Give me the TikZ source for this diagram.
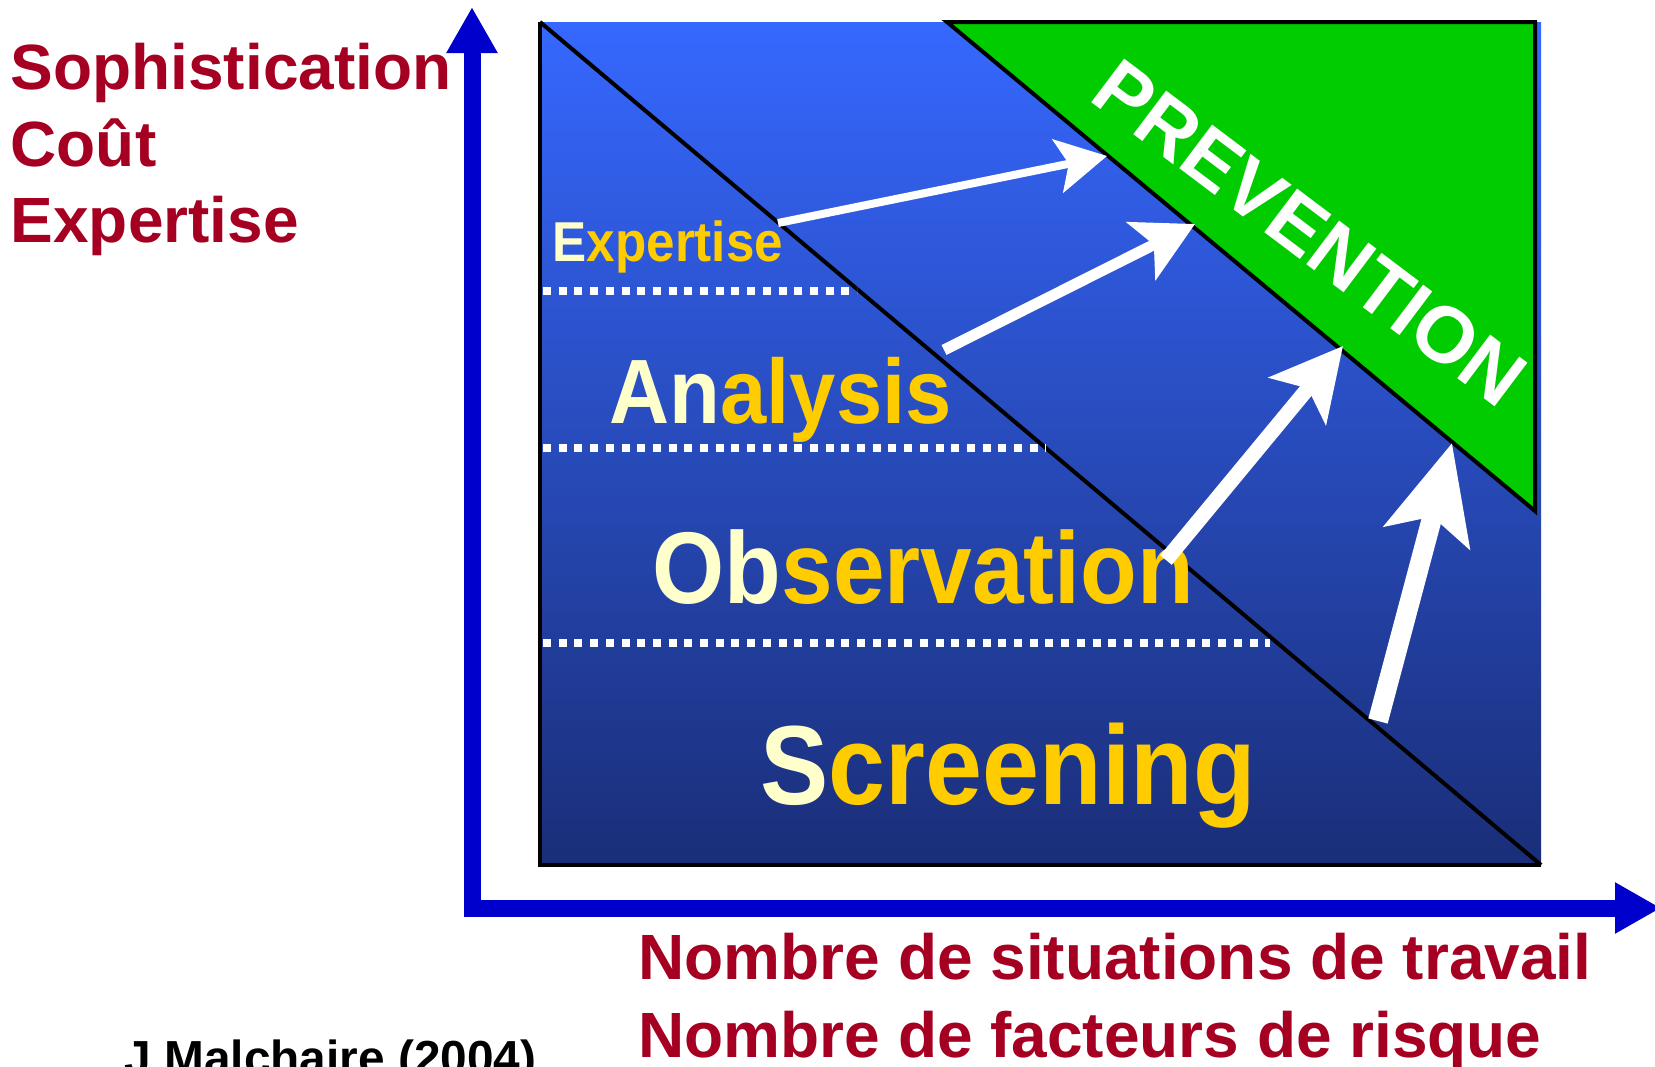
\documentclass[tikz,border=0pt]{standalone}
\usepackage{fontspec}
\setmainfont{Liberation Sans}
\newfontfamily\narrowsans[FakeStretch=0.91]{Liberation Sans}
\usetikzlibrary{arrows.meta}

\definecolor{axisblue}{RGB}{0,0,204}
\definecolor{labelred}{RGB}{165,0,33}
\definecolor{boxtop}{RGB}{54,104,255}
\definecolor{boxmid}{RGB}{44,84,210}
\definecolor{boxbottom}{RGB}{26,46,120}
\definecolor{prevgreen}{RGB}{0,204,0}
\definecolor{palelight}{RGB}{255,255,204}
\definecolor{gold}{RGB}{255,204,0}

\tikzset{
	axis/.style={axisblue,line width=1.7mm,line join=miter,
		{Triangle[length=4.6mm,width=4.8mm]}-{Triangle[length=4.6mm,width=4.8mm]}},
	axislabel/.style={anchor=base west,inner sep=0pt,text=labelred,
		font=\bfseries\fontsize{18.2}{18.2}\selectfont},
	level/.style={anchor=base west,inner sep=0pt,text=gold,
		font=\narrowsans\bfseries\fontsize{#1}{#1}\selectfont},
	edge/.style={black,line width=.4mm},
	dotline/.style={white,line width=.8mm,dash pattern=on .8mm off .77mm},
	rise/.style n args={4}{white,line width=#1,-{Stealth[length=#2,width=#3,inset=#4]}},
}

\begin{document}
\begin{tikzpicture}[x=.1mm,y=-.1mm]
	\useasboundingbox (0,0) rectangle (1655,1067);
	%AXES
	\draw[axis] (472,7) -- (472,908) -- (1661,908);
	\node[axislabel] (soph) at (10,89) {Sophistication};
	\node[axislabel] (cout) at (10,166) {Coût};
	\node[axislabel] (expy) at (10,242) {Expertise};
	\node[axislabel] (nbsit) at (638,979) {Nombre de situations de travail};
	\node[axislabel] (nbfac) at (638,1057) {Nombre de facteurs de risque};
	\node[anchor=base west,inner sep=0pt,font=\bfseries\fontsize{13.6}{13.6}\selectfont] (source) at (124,1074) {J Malchaire (2004)};

	%BOX
	\coordinate (tl) at (540,22);
	\coordinate (bl) at (540,865);
	\coordinate (br) at (1541,865);
	\fill[top color=boxtop,middle color=boxmid,bottom color=boxbottom] (tl) rectangle (br);
	\draw[edge] (tl) -- (bl) -- (br);
	\draw[edge] (tl) -- (br);
	\filldraw[fill=prevgreen,draw=black,line width=.4mm] (947,22) -- (1535,22) -- (1535,511) -- cycle;
	\node[rotate=-37,inner sep=0pt,text=white,font=\bfseries\fontsize{22.6}{22.6}\selectfont] (prev) at (1310,233) {PREVENTION};

	%LEVELS
	\draw[dotline] (543,291) -- (857,291);
	\draw[dotline] (543,448) -- (1046,448);
	\draw[dotline] (543,643) -- (1270,643);
	\node[level=16] (lexp) at (552,261) {\textcolor{palelight}{E}xpertise};
	\node[level=26] (lana) at (609,423) {\textcolor{palelight}{An}alysis};
	\node[level=29] (lobs) at (652,603) {\textcolor{palelight}{Ob}servation};
	\node[level=32] (lscr) at (760,804) {\textcolor{palelight}{S}creening};

	%ARROWS
	\coordinate (a1s) at (778,223);  \coordinate (a1e) at (1107,156);
	\coordinate (a2s) at (944,350);  \coordinate (a2e) at (1195,224);
	\coordinate (a3s) at (1166,560); \coordinate (a3e) at (1343,346);
	\coordinate (a4s) at (1378,721); \coordinate (a4e) at (1452,443);
	\draw[rise={.8mm}{5mm}{5.4mm}{1.1mm}] (a1s) -- (a1e);
	\draw[rise={1.1mm}{6mm}{6.4mm}{1.4mm}] (a2s) -- (a2e);
	\draw[rise={1.5mm}{7.1mm}{7.3mm}{1.6mm}] (a3s) -- (a3e);
	\draw[rise={2mm}{9.7mm}{8.7mm}{2.1mm}] (a4s) -- (a4e);
\end{tikzpicture}
\end{document}
